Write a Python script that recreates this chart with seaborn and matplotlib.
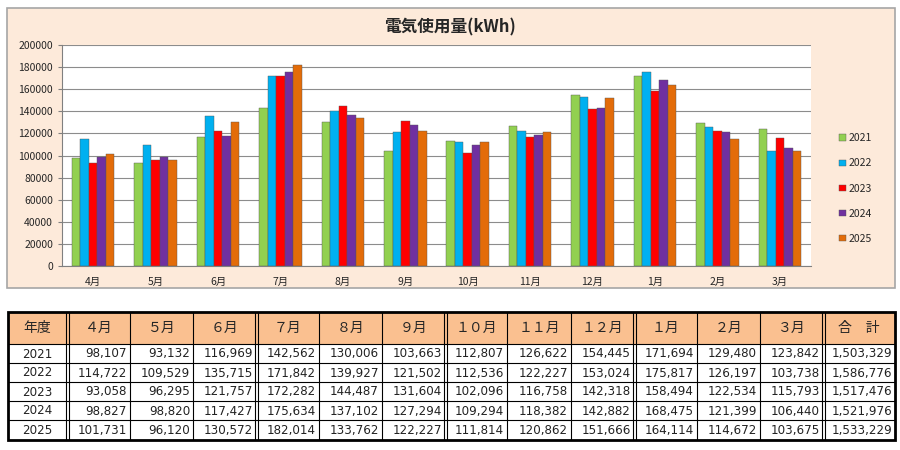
import pandas as pd
import seaborn as sns
import matplotlib.pyplot as plt
from matplotlib.patches import Rectangle

months = ['4月', '5月', '6月', '7月', '8月', '9月', '10月', '11月', '12月', '1月', '2月', '3月']
header_months = ['４月', '５月', '６月', '７月', '８月', '９月', '１０月', '１１月', '１２月', '１月', '２月', '３月']
years = ['2021', '2022', '2023', '2024', '2025']
usage_2021 = [98107, 93132, 116969, 142562, 130006, 103663, 112807, 126622, 154445, 171694, 129480, 123842]
usage_2022 = [114722, 109529, 135715, 171842, 139927, 121502, 112536, 122227, 153024, 175817, 126197, 103738]
usage_2023 = [93058, 96295, 121757, 172282, 144487, 131604, 102096, 116758, 142318, 158494, 122534, 115793]
usage_2024 = [98827, 98820, 117427, 175634, 137102, 127294, 109294, 118382, 142882, 168475, 121399, 106440]
usage_2025 = [101731, 96120, 130572, 182014, 133762, 122227, 111814, 120862, 151666, 164114, 114672, 103675]
totals = [1503329, 1586776, 1517476, 1521976, 1533229]
colors = ['#92D050', '#00B0F0', '#FF0000', '#7030A0', '#E36C09']

all_usage = [usage_2021, usage_2022, usage_2023, usage_2024, usage_2025]

rows = []
for y, vals in zip(years, all_usage):
    for m, v in zip(months, vals):
        rows.append({'month': m, 'year': y, 'usage': v})
df = pd.DataFrame(rows)

sns.set_style('white')
plt.rcParams['font.family'] = ['Noto Sans CJK JP', 'DejaVu Sans']

W, H = 900, 450
fig = plt.figure(figsize=(9, 4.5), dpi=100)
fig.patch.set_facecolor('white')

def px(x0, y0, x1, y1):
    return [x0 / W, 1 - y1 / H, (x1 - x0) / W, (y1 - y0) / H]

# chart panel background
panel = Rectangle((7 / W, 1 - 288 / H), 888 / W, 280 / H, transform=fig.transFigure,
                  facecolor='#FDEADA', edgecolor='#A6A6A6', lw=1.2, zorder=-5)
fig.patches.append(panel)
fig.text(450 / W, 1 - 27 / H, '電気使用量(kWh)', ha='center', va='center',
         fontsize=12, fontweight='bold')

ax = fig.add_axes(px(62, 45, 811, 266))
ax.set_facecolor('white')
sns.barplot(data=df, x='month', y='usage', hue='year', palette=colors, width=0.68,
            saturation=1, edgecolor='#555555', linewidth=0.3, ax=ax)
ax.set_ylim(0, 200000)
ax.set_yticks(range(0, 200001, 20000))
ax.set_yticklabels([str(v) for v in range(0, 200001, 20000)], fontsize=7.5)
ax.set_xlim(-0.5, 11.5)
ax.set_xlabel('')
ax.set_ylabel('')
ax.tick_params(axis='x', length=0, labelsize=7.5, pad=8)
ax.set_xticks([i + 0.5 for i in range(-1, 12)], minor=True)
ax.tick_params(axis='x', which='minor', length=4, color='#808080', direction='out')
ax.tick_params(axis='y', length=3, color='#808080', direction='out', left=True)
ax.grid(axis='y', color='#8C8C8C', lw=0.8)
ax.set_axisbelow(True)
for s in ['top', 'right']:
    ax.spines[s].set_visible(False)
for s in ['left', 'bottom']:
    ax.spines[s].set_color('#808080')
handles, labels = ax.get_legend_handles_labels()
ax.legend(handles, labels, loc='upper left', bbox_to_anchor=(830 / W, 1 - 124 / H),
          bbox_transform=fig.transFigure, frameon=False, fontsize=7.5,
          handlelength=0.6, handleheight=0.6, handletextpad=0.3, labelspacing=1.45)

# table
tax = fig.add_axes([0, 0, 1, 1], facecolor='none')
tax.set_xlim(0, W)
tax.set_ylim(H, 0)
tax.axis('off')

col_edges = [8, 67, 130, 193, 256, 319, 382, 445, 507, 571, 634, 697, 760, 823, 895]
row_edges = [312, 344, 363, 382, 401, 420, 440]
double_after = [1, 4, 7, 10, 13]
num_font = ['DejaVu Sans']

tax.add_patch(Rectangle((col_edges[0], row_edges[0]), col_edges[-1] - col_edges[0],
                        row_edges[1] - row_edges[0], facecolor='#FAC090', edgecolor='none'))

for yv in row_edges[1:-1]:
    tax.plot([col_edges[0], col_edges[-1]], [yv, yv], color='black', lw=0.8)
for i, xv in enumerate(col_edges[1:-1], start=1):
    if i in double_after:
        for dx in (-1.5, 1.5):
            tax.plot([xv + dx, xv + dx], [row_edges[0], row_edges[-1]], color='black', lw=0.8)
    else:
        tax.plot([xv, xv], [row_edges[0], row_edges[-1]], color='black', lw=0.8)
tax.add_patch(Rectangle((col_edges[0], row_edges[0]), col_edges[-1] - col_edges[0],
                        row_edges[-1] - row_edges[0], facecolor='none', edgecolor='black', lw=2))

headers = ['年度'] + header_months + ['合　計']
for j, h in enumerate(headers):
    xc = (col_edges[j] + col_edges[j + 1]) / 2
    tax.text(xc, (row_edges[0] + row_edges[1]) / 2, h, ha='center', va='center', fontsize=10)

for i, (y, vals) in enumerate(zip(years, all_usage)):
    yc = (row_edges[i + 1] + row_edges[i + 2]) / 2 + 0.5
    tax.text((col_edges[0] + col_edges[1]) / 2, yc, y, ha='center', va='center',
             fontsize=8.6, family=num_font, color='#222222')
    for j, v in enumerate(vals + [totals[i]]):
        tax.text(col_edges[j + 2] - 3, yc, f'{v:,}', ha='right', va='center',
                 fontsize=8.6, family=num_font, color='#222222')

fig.savefig('out.png', dpi=100)
